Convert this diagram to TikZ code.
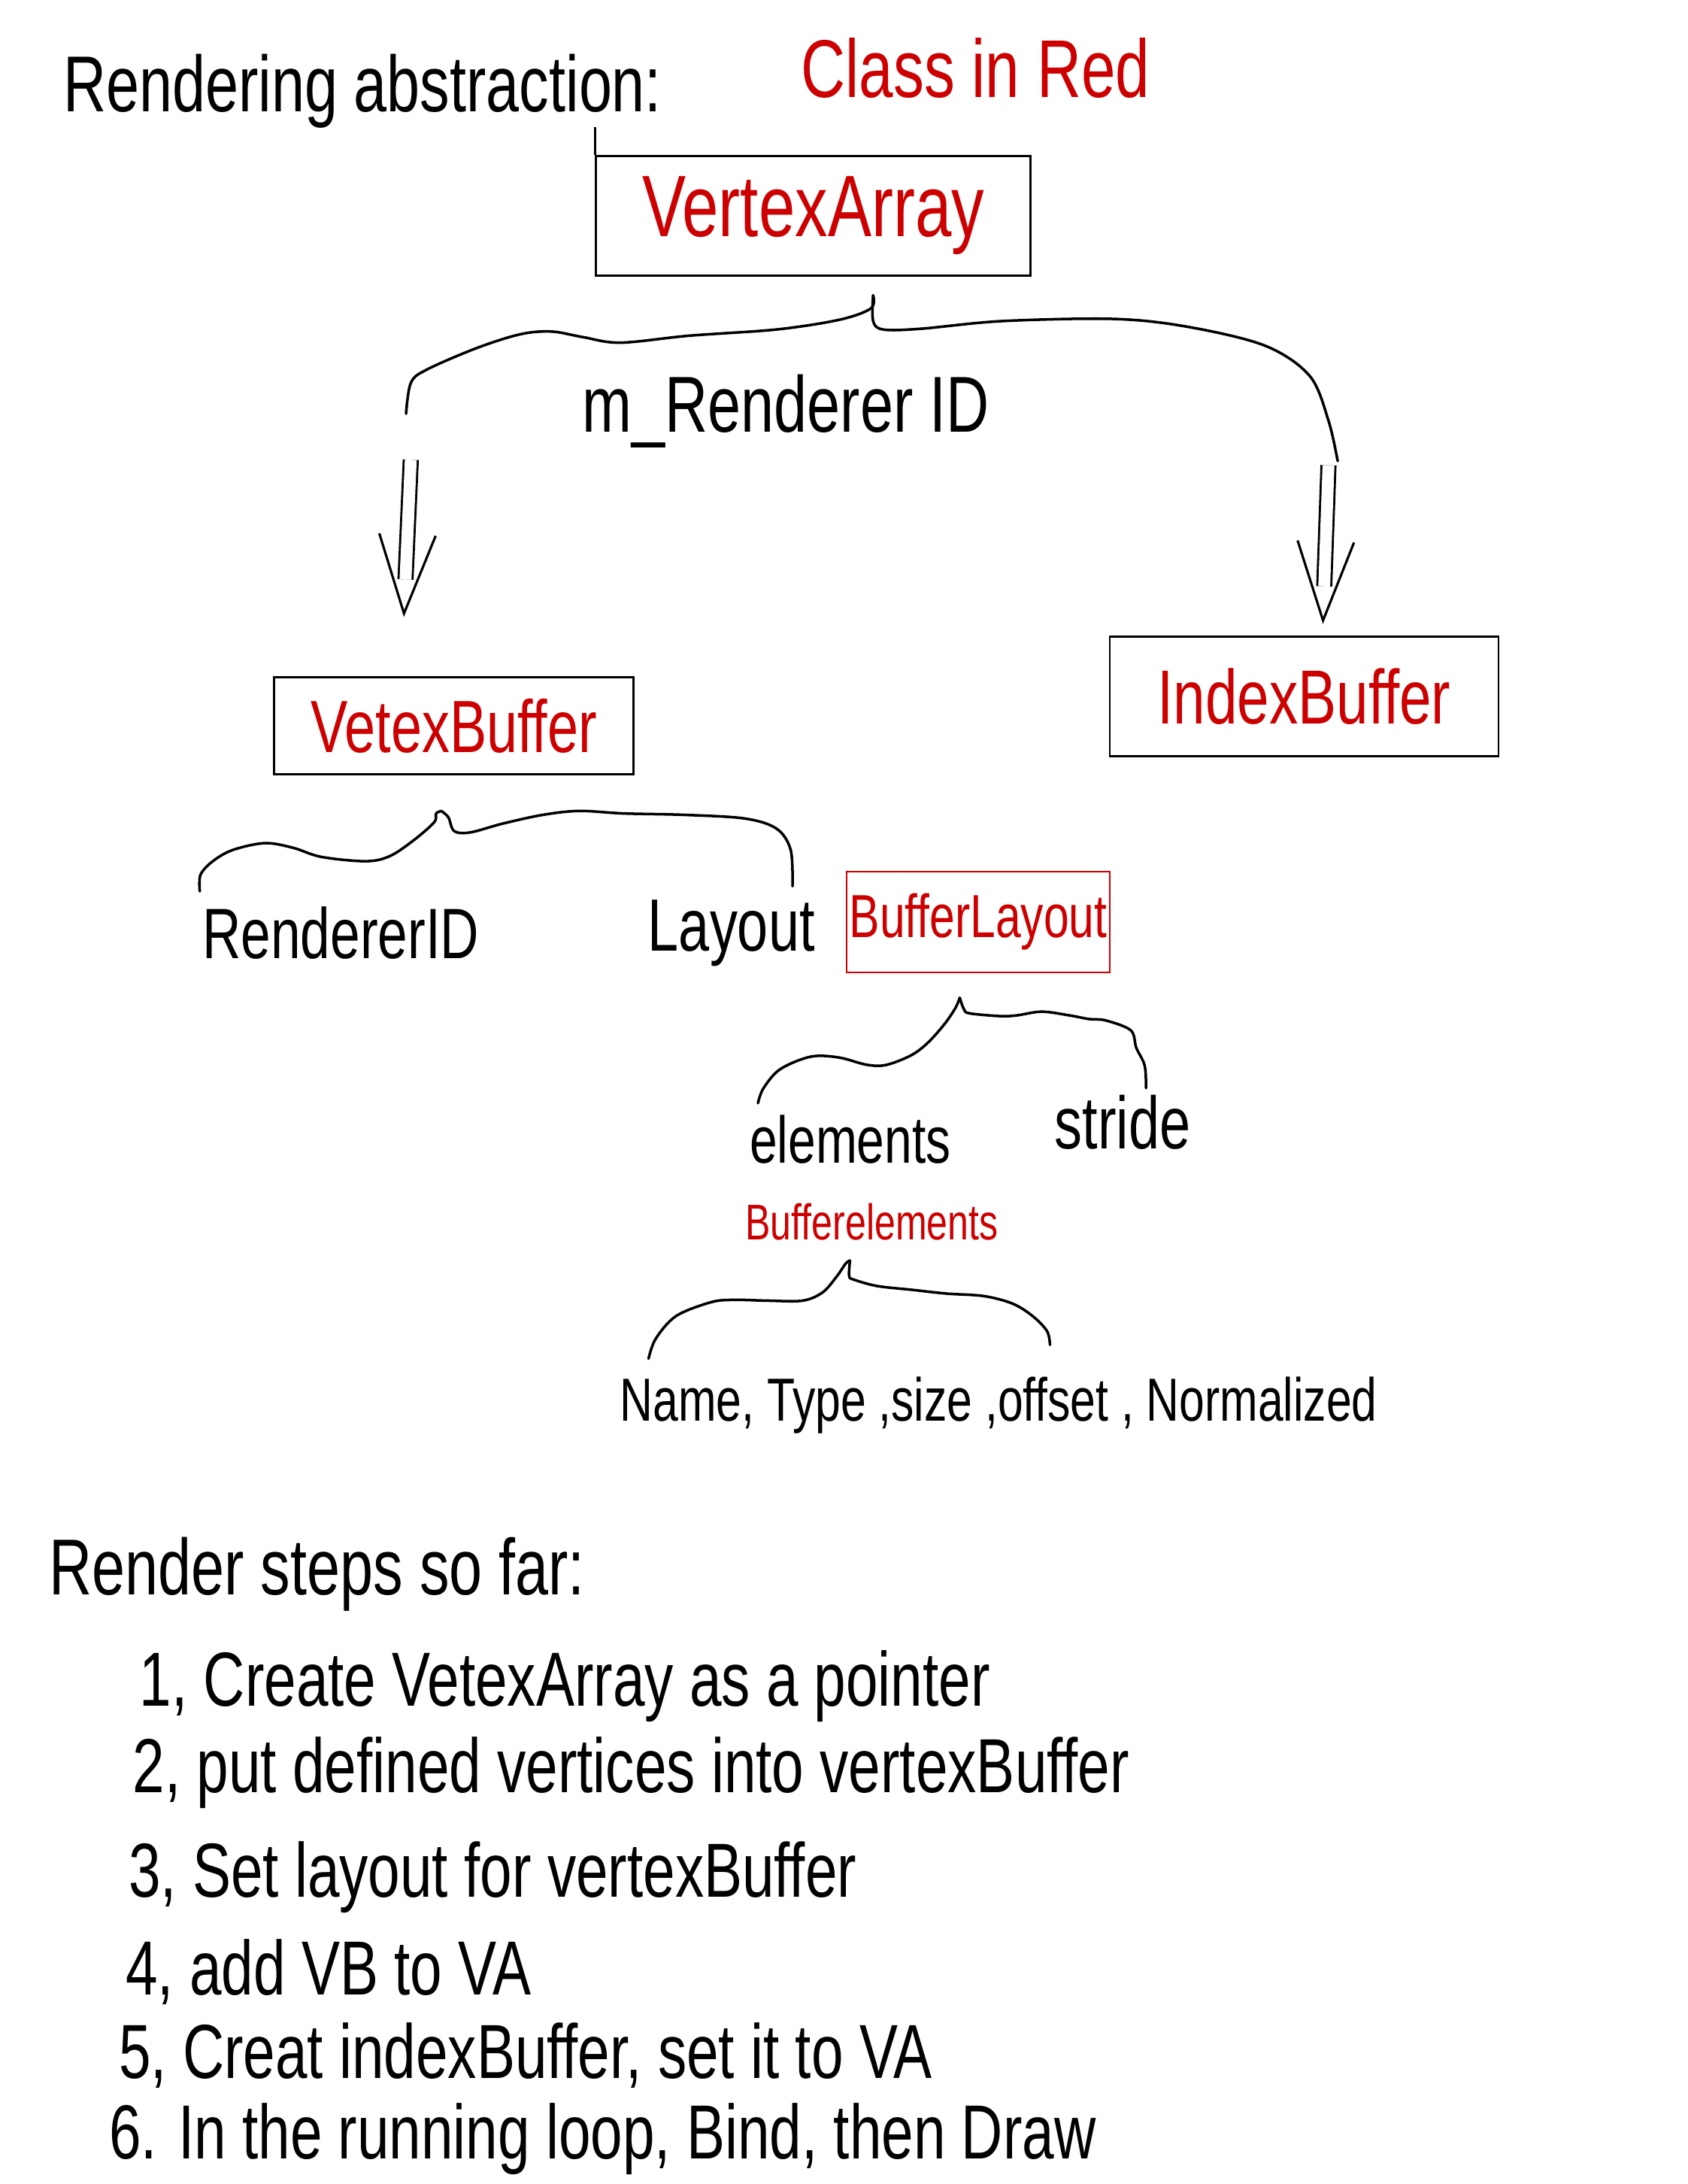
\documentclass[tikz,border=0pt]{standalone}
\usepackage{fontspec}
\setmainfont{Liberation Sans}[FakeStretch=0.75]
\usepackage{tikz}
\usetikzlibrary{arrows.meta, positioning}
\definecolor{pen}{RGB}{204,0,0}
\newcommand{\handsize}[1]{\fontsize{#1}{#1}\selectfont}
\tikzset{
    classbox/.style={rectangle, draw, line width=0.8pt, inner sep=0pt, text=pen},
    redbox/.style={rectangle, draw=pen, line width=0.6pt, inner sep=0pt, text=pen},
    hand/.style={inner sep=0pt, anchor=base west},
    redhand/.style={hand, text=pen},
    curly/.style={line width=1pt, line cap=round, line join=round},
    dblarrow/.style={draw=white, line width=0.8pt, -{Straight Barb[length=1.05cm, width=0.75cm, color=black, line width=0.9pt]},
        preaction={draw=black, arrows=-, double=white, double distance=4.5pt, line width=0.8pt, line cap=butt, shorten >=0.5cm}}
}

\begin{document}
\begin{tikzpicture}[x=0.018515cm, y=-0.018515cm]
    \useasboundingbox (0,0) rectangle (1212,1568);

    % Heading (top)
    \node[hand, font=\handsize{30}] (title) at (45,80) {Rendering abstraction:};
    \node[redhand, font=\handsize{31}] (legend) at (575,70) {Class in Red};

    % Vertex array and its id
    \node[classbox, minimum width=5.777cm, minimum height=1.592cm, font=\handsize{33}] (vertexArray) at (584,155) {VertexArray};
    \draw[line width=0.8pt] (vertexArray.north west) -- ++(0,-20);
    \node[hand, font=\handsize{30}] (mRendererId) at (418,310) {m\_Renderer ID};

    \coordinate (vaTip) at (627,212);
    \coordinate (vaLeft) at (291.6,297);
    \coordinate (vaRight) at (960.6,331);
    \draw[curly] plot[smooth, tension=0.55] coordinates {(vaTip) (625.4,221.4) (603,229.5) (558,236.5) (495,241) (445.5,246) (418.5,242) (396,238) (373.5,240) (342,250) (306,265.6) (295,275) (vaLeft)};
    \draw[curly] plot[smooth, tension=0.55] coordinates {(vaTip) (627,230.5) (634.5,236.6) (661.5,236) (720,230.5) (801,229) (855,235) (909,248.4) (940.6,270) (954,302) (vaRight)};

    % Buffers
    \coordinate (vbArrowTop) at (295,330);
    \coordinate (vbArrowTip) at (290,443);
    \coordinate (ibArrowTop) at (954,334);
    \coordinate (ibArrowTip) at (950,448);
    \draw[dblarrow] (vbArrowTop) -- (vbArrowTip);
    \draw[dblarrow] (ibArrowTop) -- (ibArrowTip);

    \node[classbox, minimum width=4.777cm, minimum height=1.296cm, font=\handsize{28}] (vertexBuffer) at (326,521) {VetexBuffer};
    \node[classbox, minimum width=5.166cm, minimum height=1.592cm, font=\handsize{29}] (indexBuffer) at (936.5,500) {IndexBuffer};

    % Vertex buffer members
    \coordinate (vbTip) at (317,582.3);
    \coordinate (vbLeft) at (143.5,639.9);
    \coordinate (vbRight) at (569.1,636.2);
    \draw[curly] plot[smooth, tension=0.55] coordinates {(vbTip) (313.2,584) (311.8,590.3) (297.4,603) (280,614.6) (262.6,618.3) (230.8,615.2) (210.6,608.7) (190.3,605.3) (167.2,610.2) (152.8,618.3) (144,628) (vbLeft)};
    \draw[curly] plot[smooth, tension=0.55] coordinates {(vbTip) (322,586.8) (326.2,596.7) (337.8,597.6) (361,591.3) (389.9,585) (416,582.2) (447.7,584) (491,585) (534.6,587.6) (557.6,594.9) (567.8,610.2) (vbRight)};

    \node[hand, font=\handsize{27}] (rendererId) at (145,688) {RendererID};
    \node[hand, font=\handsize{28}] (layout) at (465,683) {Layout};
    \node[redbox, minimum width=3.5cm, minimum height=1.333cm, font=\handsize{23}] (bufferLayout) at (702.5,662) {BufferLayout};

    % Layout members
    \coordinate (blTip) at (689.2,716.3);
    \coordinate (blLeft) at (544.3,792);
    \coordinate (blRight) at (823,781.2);
    \draw[curly] plot[smooth, tension=0.55] coordinates {(blTip) (686.2,723.5) (678.2,735.3) (666.2,748.7) (654.2,757.7) (636.2,764.6) (622.2,764.4) (602.3,759.2) (582.3,758.6) (560.3,767.6) (548.3,781.2) (blLeft)};
    \draw[curly] plot[smooth, tension=0.55] coordinates {(blTip) (692.2,724.5) (696.2,727.5) (718.1,729.5) (730.1,729) (748.1,726.3) (768.1,729) (782,731.6) (794,732.6) (812,739.7) (816,752.3) (822,765) (blRight)};

    \node[hand, font=\handsize{25}] (elements) at (538,835) {elements};
    \node[hand, font=\handsize{28}] (stride) at (757,825) {stride};
    \node[redhand, font=\handsize{19}] (bufferElements) at (535,890) {Bufferelements};

    % Element members
    \coordinate (beTip) at (610.4,905);
    \coordinate (beLeft) at (465.7,975.5);
    \coordinate (beRight) at (754,965.6);
    \draw[curly] plot[smooth, tension=0.55] coordinates {(beTip) (607.3,907.1) (601.1,916.1) (590.8,927.8) (576.3,933.8) (551.5,933.8) (526.7,933.2) (510.2,935) (485.4,944.9) (470.9,961.1) (beLeft)};
    \draw[curly] plot[smooth, tension=0.55] coordinates {(beTip) (609.8,916.1) (613.5,918.8) (630,923.3) (654.8,926) (679.6,928.7) (706.5,930.5) (727.1,935.9) (741.6,944.9) (751.9,955.7) (beRight)};

    \node[hand, font=\handsize{23}] (elementAttribs) at (445,1020) {Name, Type ,size ,offset , Normalized};

    % Steps (bottom)
    \node[hand, font=\handsize{30}] (stepsTitle) at (35,1145) {Render steps so far:};
    \node[hand, font=\handsize{29}] (step1) at (100,1225) {1, Create VetexArray as a pointer};
    \node[hand, font=\handsize{29}] (step2) at (95,1287) {2, put defined vertices into vertexBuffer};
    \node[hand, font=\handsize{29}] (step3) at (92,1362) {3, Set layout for vertexBuffer};
    \node[hand, font=\handsize{29}] (step4) at (90,1432) {4, add VB to VA};
    \node[hand, font=\handsize{29}] (step5) at (85,1492) {5, Creat indexBuffer, set it to VA};
    \node[hand, font=\handsize{29}] (step6) at (78,1550) {6. In the running loop, Bind, then Draw};
\end{tikzpicture}
\end{document}
